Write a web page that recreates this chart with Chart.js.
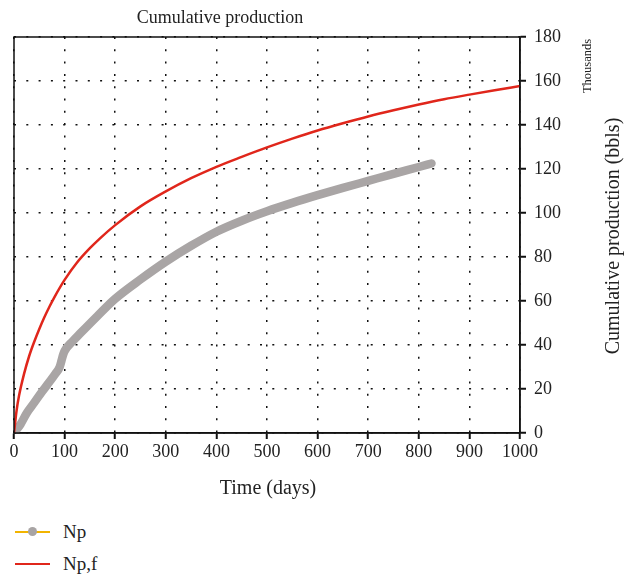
<!DOCTYPE html>
<html>
<head>
<meta charset="utf-8">
<script src="https://cdn.jsdelivr.net/npm/chart.js@4/dist/chart.umd.min.js"></script>
<style>
  html,body{margin:0;padding:0;background:#fff;}
  #wrap{position:relative;width:632px;height:580px;}
  #c{position:absolute;left:0;top:0;}
  .leg{position:absolute;left:15px;font-family:"Liberation Serif",serif;font-size:19px;color:#222;display:flex;align-items:center;height:20px;}
  .leg .ln{width:35px;height:2.5px;position:relative;margin-right:13px;}
  .leg .dot{position:absolute;width:9px;height:9px;border-radius:50%;background:#a8a4a4;left:13px;top:-3.5px;}
</style>
</head>
<body>
<div id="wrap">
  <canvas id="c" width="632" height="505"></canvas>
  <div class="leg" style="top:522px;"><div class="ln" style="background:#f2b400;"><div class="dot"></div></div>Np</div>
  <div class="leg" style="top:554px;"><div class="ln" style="background:#e0261b;"></div>Np,f</div>
</div>
<script>
const title = "Cumulative production";
const xTitle = "Time (days)";
const yTitle = "Cumulative production (bbls)";
const yUnit = "Thousands";

const npDays = [0,5,13,25,40,56,66,82,90,94,97,100,115,131,165,200,250,300,350,400,450,500,550,600,650,700,750,800,825];
const npValues = [0,1.5,4,9,13.8,19,22,27,29.8,33,35.5,37.3,41.5,45.3,53.2,61,69.8,77.9,85.1,91.5,96.5,100.8,104.6,108.1,111.4,114.6,117.8,120.9,122.5];

const npfDays = [0,5,10,20,30,40,50,60,70,80,100,125,150,170,200,250,300,350,400,450,500,550,600,650,700,750,800,850,900,950,1000];
const npfValues = [0,10,17,27,35,41.5,47.3,52.6,57.4,61.8,69.6,77.6,84,88.5,94.5,103,109.8,115.8,121,125.5,129.8,133.8,137.5,140.8,143.9,146.7,149.3,151.7,153.8,155.8,157.7];

const toXY = (xs, ys) => xs.map((x, i) => ({x: x, y: ys[i]}));
const FONT = "Liberation Serif";

const decor = {
  id: 'decor',
  afterDraw(chart) {
    const {ctx, chartArea: a} = chart;
    ctx.save();
    ctx.strokeStyle = '#111';
    ctx.lineWidth = 1.5;
    ctx.strokeRect(a.left, a.top, a.right - a.left, a.bottom - a.top);
    ctx.fillStyle = '#222';
    ctx.textAlign = 'center';
    ctx.textBaseline = 'middle';
    ctx.font = '18px "' + FONT + '"';
    ctx.fillText(title, (a.left + a.right) / 2 - 47, 18);
    ctx.font = '20px "' + FONT + '"';
    ctx.fillText(xTitle, 268, 489);
    ctx.translate(614, 236);
    ctx.rotate(-Math.PI / 2);
    ctx.fillText(yTitle, 0, 0);
    ctx.restore();
    ctx.save();
    ctx.fillStyle = '#222';
    ctx.font = '12.5px "' + FONT + '"';
    ctx.textAlign = 'center';
    ctx.textBaseline = 'middle';
    ctx.translate(588, 66);
    ctx.rotate(-Math.PI / 2);
    ctx.fillText(yUnit, 0, 0);
    ctx.restore();
  }
};

new Chart(document.getElementById('c'), {
  type: 'line',
  data: {
    datasets: [
      {
        label: 'Np,f',
        data: toXY(npfDays, npfValues),
        borderColor: '#e0261b',
        borderWidth: 2.5,
        pointRadius: 0,
        cubicInterpolationMode: 'monotone',
        order: 1
      },
      {
        label: 'Np',
        data: toXY(npDays, npValues),
        borderColor: '#a9a5a5',
        borderWidth: 8.5,
        borderCapStyle: 'round',
        borderJoinStyle: 'round',
        pointRadius: 0,
        cubicInterpolationMode: 'monotone',
        order: 2
      }
    ]
  },
  options: {
    responsive: false,
    animation: false,
    layout: {padding: {left: 14, right: 0, top: 37, bottom: 0}},
    plugins: {legend: {display: false}, tooltip: {enabled: false}},
    scales: {
      x: {
        type: 'linear',
        min: 0, max: 1000,
        ticks: {stepSize: 100, color: '#222', font: {family: FONT, size: 18}, padding: 2, maxRotation: 0,
                callback: v => String(v)},
        grid: {color: '#111', lineWidth: 1.5, tickLength: 6, tickColor: '#111', tickWidth: 2, tickBorderDash: []},
        border: {display: true, color: '#111', width: 1.5, dash: [2, 10.3]},
        afterFit(s) { s.height = 72; }
      },
      y: {
        position: 'right',
        min: 0, max: 180,
        ticks: {stepSize: 20, color: '#222', font: {family: FONT, size: 18}, padding: 8},
        grid: {color: '#111', lineWidth: 1.5, tickLength: 6, tickColor: '#111', tickWidth: 2, tickBorderDash: []},
        border: {display: true, color: '#111', width: 1.5, dash: [2, 10.3]},
        afterFit(s) { s.width = 112; }
      }
    }
  },
  plugins: [decor]
});
</script>
</body>
</html>
